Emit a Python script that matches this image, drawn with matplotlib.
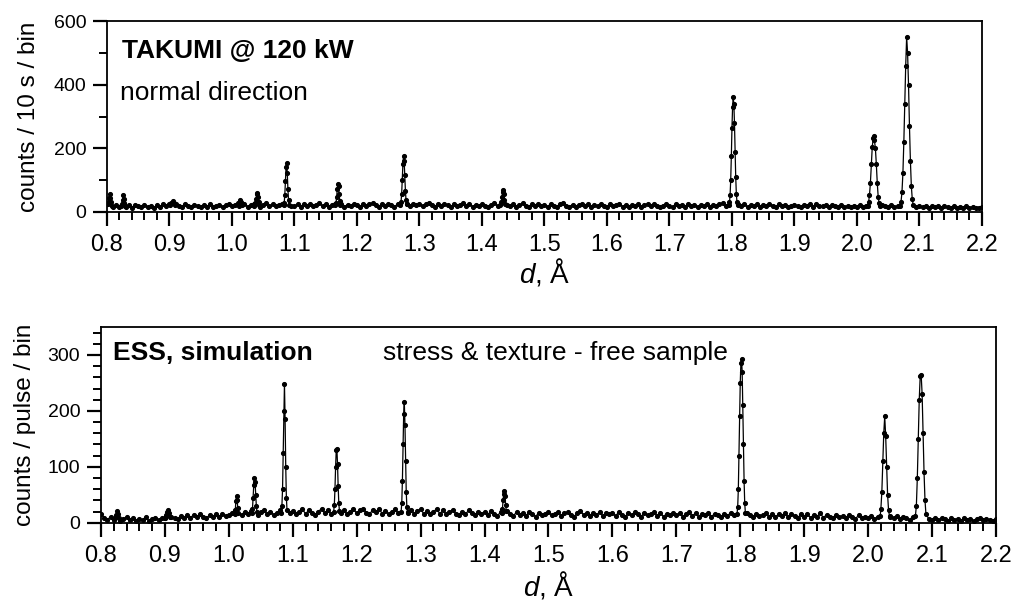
import numpy as np
import matplotlib
matplotlib.use("Agg")
import matplotlib.pyplot as plt
from matplotlib.ticker import MultipleLocator

plt.rcParams['font.family'] = ['Liberation Sans', 'DejaVu Sans']
plt.rcParams['mathtext.fontset'] = 'custom'
plt.rcParams['mathtext.it'] = 'Liberation Sans:italic'
plt.rcParams['mathtext.rm'] = 'Liberation Sans'

# ---------------- data ----------------
# common d grid of the background (0.800 ... 2.200 in 0.005 steps)
base_d = np.round(np.linspace(0.8, 2.2, 281), 4)

# TAKUMI @ 120 kW, background counts
takumi_base = [
    26, 20, 15, 22, 17, 24, 16, 21, 14, 23, 18, 15, 22, 16, 20, 14, 21, 17, 24, 19,
    24, 28, 25, 20, 17, 24, 18, 16, 23, 19, 15, 22, 17, 24, 16, 20, 23, 16, 21, 25,
    18, 23, 27, 19, 24, 17, 22, 26, 20, 16, 23, 27, 19, 24, 18, 22, 26, 17, 23, 20,
    18, 24, 17, 25, 20, 26, 18, 23, 27, 19, 24, 17, 22, 26, 19, 25, 17, 23, 20, 25,
    22, 17, 26, 19, 24, 28, 21, 17, 25, 19, 26, 22, 17, 24, 19, 21, 26, 18, 24, 21,
    26, 19, 24, 29, 21, 17, 25, 19, 26, 22, 17, 24, 19, 22, 27, 18, 24, 17, 23, 20,
    24, 19, 17, 23, 27, 19, 25, 17, 23, 20, 25, 17, 22, 27, 19, 16, 24, 18, 25, 20,
    23, 17, 25, 19, 16, 24, 27, 19, 17, 23, 16, 21, 26, 18, 24, 16, 21, 18, 25, 20,
    16, 24, 18, 21, 26, 17, 23, 16, 21, 18, 24, 16, 22, 26, 18, 24, 20, 16, 19, 24,
    18, 16, 24, 19, 22, 16, 26, 18, 23, 16, 21, 18, 24, 16, 21, 19, 24, 28, 20, 25,
    23, 21, 26, 18, 24, 16, 21, 19, 24, 16, 22, 18, 26, 20, 16, 24, 18, 22, 16, 19,
    23, 18, 16, 22, 19, 24, 16, 25, 20, 18, 23, 16, 21, 18, 15, 21, 17, 19, 15, 19,
    17, 22, 15, 20, 17, 22, 19, 23, 21, 18, 16, 21, 15, 19, 21, 16, 19, 23, 20, 16,
    19, 15, 18, 14, 18, 15, 20, 14, 18, 15, 13, 18, 13, 17, 14, 18, 13, 16, 14, 13,
    15,
]

# TAKUMI Bragg peaks: (d values, counts)
takumi_peaks = [
    ([0.801, 0.8025, 0.8035, 0.8045, 0.8055, 0.8065, 0.808],
     [24, 32, 45, 57, 44, 30, 20]),
    ([0.8225, 0.824, 0.825, 0.826, 0.827, 0.828, 0.8295],
     [18, 26, 38, 52, 42, 28, 19]),
    ([0.901, 0.903, 0.905, 0.907, 0.909],
     [22, 28, 33, 29, 22]),
    ([1.0105, 1.012, 1.0135, 1.015, 1.0165],
     [20, 27, 37, 30, 21]),
    ([1.036, 1.0375, 1.0385, 1.0395, 1.0405, 1.0415, 1.0425, 1.044],
     [20, 27, 40, 56, 61, 47, 32, 21]),
    ([1.0825, 1.0835, 1.0845, 1.0855, 1.0865, 1.0875, 1.0885, 1.0895, 1.0905, 1.0915],
     [21, 28, 52, 96, 140, 155, 121, 72, 37, 22]),
    ([1.1655, 1.1665, 1.1675, 1.1685, 1.1695, 1.1705, 1.1715, 1.1725, 1.1735],
     [21, 29, 47, 73, 88, 81, 57, 34, 22]),
    ([1.2695, 1.2705, 1.2715, 1.2725, 1.2735, 1.2745, 1.2755, 1.2765, 1.2775, 1.2785, 1.2795],
     [22, 32, 57, 101, 150, 175, 160, 116, 67, 37, 24]),
    ([1.4295, 1.431, 1.432, 1.433, 1.434, 1.435, 1.436, 1.4375],
     [21, 30, 46, 63, 68, 56, 38, 24]),
    ([1.795, 1.796, 1.797, 1.798, 1.799, 1.800, 1.801, 1.802, 1.803, 1.804, 1.805,
      1.806, 1.807, 1.808, 1.809],
     [22, 30, 52, 101, 175, 265, 330, 360, 340, 280, 190, 111, 57, 32, 22]),
    ([2.017, 2.0185, 2.020, 2.0215, 2.023, 2.0245, 2.026, 2.027, 2.028, 2.0295, 2.031,
      2.0325, 2.034, 2.0355, 2.037],
     [20, 30, 52, 91, 150, 205, 232, 240, 225, 200, 150, 91, 47, 27, 19]),
    ([2.069, 2.0705, 2.072, 2.0735, 2.075, 2.0765, 2.078, 2.0795, 2.081, 2.0825, 2.084,
      2.0855, 2.087, 2.0885, 2.090],
     [20, 32, 62, 121, 220, 340, 460, 550, 500, 400, 270, 161, 82, 40, 22]),
]

# ESS simulation, background counts
ess_base = [
    15, 9, 5, 11, 4, 8, 3, 7, 10, 4, 8, 3, 7, 5, 10, 3, 7, 9, 4, 8,
    9, 14, 11, 8, 6, 12, 8, 13, 9, 14, 10, 15, 11, 8, 14, 10, 15, 11, 16, 12,
    14, 18, 12, 19, 14, 20, 15, 21, 16, 13, 19, 22, 15, 20, 14, 18, 22, 15, 20, 17,
    21, 15, 19, 24, 16, 22, 18, 14, 20, 25, 17, 22, 16, 20, 24, 17, 22, 15, 20, 24,
    17, 22, 25, 18, 15, 23, 19, 25, 16, 21, 15, 20, 24, 17, 22, 25, 18, 23, 16, 21,
    24, 16, 21, 15, 19, 25, 16, 22, 15, 19, 23, 16, 14, 20, 15, 22, 17, 13, 20, 16,
    19, 14, 21, 16, 12, 19, 14, 21, 16, 12, 19, 14, 17, 12, 20, 15, 11, 18, 13, 16,
    19, 13, 16, 20, 12, 17, 19, 14, 11, 17, 21, 14, 18, 12, 17, 14, 19, 12, 17, 15,
    17, 12, 19, 14, 11, 17, 13, 19, 15, 11, 18, 13, 15, 19, 12, 17, 11, 16, 13, 18,
    13, 17, 11, 15, 19, 12, 17, 11, 16, 13, 18, 11, 16, 13, 10, 16, 12, 18, 14, 12,
    16, 12, 18, 13, 10, 16, 12, 14, 18, 11, 16, 10, 15, 12, 17, 10, 15, 12, 9, 15,
    11, 15, 9, 14, 11, 17, 9, 14, 11, 8, 14, 10, 12, 8, 14, 10, 7, 13, 9, 11,
    8, 12, 6, 11, 8, 13, 6, 11, 8, 12, 6, 11, 8, 5, 11, 7, 9, 5, 11, 7,
    5, 9, 4, 8, 6, 3, 8, 5, 7, 3, 8, 5, 7, 3, 6, 8, 4, 7, 5, 3,
    6,
]

# ESS simulated Bragg peaks: (d values, counts)
ess_peaks = [
    ([0.822, 0.8235, 0.825, 0.8265, 0.828],
     [8, 14, 21, 15, 8]),
    ([0.9005, 0.902, 0.9035, 0.905, 0.9065, 0.908],
     [9, 14, 20, 23, 17, 11]),
    ([1.009, 1.010, 1.011, 1.012, 1.013, 1.014, 1.015],
     [15, 22, 38, 48, 40, 26, 17]),
    ([1.036, 1.037, 1.038, 1.039, 1.040, 1.041, 1.042, 1.043, 1.044],
     [17, 25, 45, 68, 80, 72, 50, 30, 19]),
    ([1.082, 1.083, 1.084, 1.085, 1.086, 1.087, 1.088, 1.089, 1.090, 1.091],
     [18, 30, 60, 125, 200, 248, 185, 100, 45, 22]),
    ([1.164, 1.165, 1.166, 1.167, 1.168, 1.169, 1.170, 1.171, 1.172, 1.173],
     [20, 32, 60, 100, 130, 132, 105, 65, 35, 21]),
    ([1.2695, 1.2705, 1.2715, 1.2725, 1.2735, 1.2745, 1.2755, 1.2765, 1.2775, 1.2785, 1.2795],
     [20, 35, 75, 140, 195, 215, 175, 110, 55, 28, 19]),
    ([1.427, 1.428, 1.429, 1.430, 1.431, 1.432, 1.433, 1.434],
     [17, 25, 40, 52, 57, 48, 32, 21]),
    ([1.795, 1.796, 1.797, 1.798, 1.799, 1.800, 1.801, 1.802, 1.803, 1.804, 1.805,
      1.806, 1.807, 1.808],
     [16, 28, 60, 120, 190, 250, 285, 293, 270, 210, 140, 75, 35, 18]),
    ([2.019, 2.020, 2.0215, 2.023, 2.0245, 2.026, 2.0275, 2.029, 2.0305, 2.032, 2.0335],
     [12, 25, 55, 110, 160, 190, 155, 100, 50, 22, 12]),
    ([2.074, 2.0755, 2.077, 2.0785, 2.080, 2.0815, 2.083, 2.0845, 2.086, 2.0875, 2.089, 2.0905],
     [12, 30, 80, 150, 220, 262, 265, 230, 160, 90, 40, 15]),
]

x_ticks = [0.8, 0.9, 1.0, 1.1, 1.2, 1.3, 1.4, 1.5, 1.6, 1.7, 1.8, 1.9, 2.0, 2.1, 2.2]


def merge(base_y, peaks):
    by = np.asarray(base_y, float)
    keep = np.ones(len(base_d), bool)
    for pd_, _ in peaks:
        keep &= ~((base_d >= min(pd_)) & (base_d <= max(pd_)))
    d = np.concatenate([base_d[keep]] + [np.asarray(p[0], float) for p in peaks])
    y = np.concatenate([by[keep]] + [np.asarray(p[1], float) for p in peaks])
    order = np.argsort(d)
    return d[order], y[order]


fig = plt.figure(figsize=(10.14, 6.01), dpi=100)
ax1 = fig.add_axes([0.1055, 0.6473, 0.8629, 0.3177])
ax2 = fig.add_axes([0.0996, 0.1303, 0.8826, 0.3256])

line_kw = dict(color='black', lw=0.9, marker='o', ms=2.7, mec='black', mfc='black')

d1, y1 = merge(takumi_base, takumi_peaks)
d2, y2 = merge(ess_base, ess_peaks)
ax1.plot(d1, y1, **line_kw)
ax2.plot(d2, y2, **line_kw)

ax1.set_ylim(0, 600)
ax2.set_ylim(0, 350)
for ax in (ax1, ax2):
    ax.set_xlim(0.8, 2.2)
    ax.set_xticks(x_ticks)
    ax.set_xticklabels([f"{t:.1f}" for t in x_ticks])
    ax.xaxis.set_minor_locator(MultipleLocator(0.02))
    for s in ax.spines.values():
        s.set_linewidth(1.3)
    ax.tick_params(which='major', direction='out', length=10, width=1.6, top=False, right=False)
    ax.tick_params(which='minor', direction='out', length=6, width=1.4, top=False, right=False)
    ax.tick_params(axis='x', labelsize=17, pad=6)
    ax.tick_params(axis='y', labelsize=14, pad=5)
    ax.set_xlabel(r'$d$, Å', fontsize=20)

ax1.yaxis.set_major_locator(MultipleLocator(200))
ax1.yaxis.set_minor_locator(MultipleLocator(100))
ax2.yaxis.set_major_locator(MultipleLocator(100))
ax2.yaxis.set_minor_locator(MultipleLocator(20))

ax1.set_ylabel('counts / 10 s / bin', fontsize=17.5)
ax2.set_ylabel('counts / pulse / bin', fontsize=17.5)
ax1.yaxis.set_label_coords(-0.0766, 0.5)
ax2.yaxis.set_label_coords(-0.0726, 0.5)
ax1.xaxis.set_label_coords(0.5006, -0.235)
ax2.xaxis.set_label_coords(0.5, -0.24)

ax1.text(0.017, 0.805, 'TAKUMI @ 120 kW', transform=ax1.transAxes, fontsize=19,
         fontweight='bold', ha='left', va='baseline')
ax1.text(0.015, 0.586, 'normal direction', transform=ax1.transAxes, fontsize=19,
         ha='left', va='baseline')
ax2.text(0.0134, 0.832, 'ESS, simulation', transform=ax2.transAxes, fontsize=19,
         fontweight='bold', ha='left', va='baseline')
ax2.text(0.315, 0.832, 'stress & texture - free sample', transform=ax2.transAxes,
         fontsize=19, ha='left', va='baseline')

fig.savefig('out.png', dpi=100)
